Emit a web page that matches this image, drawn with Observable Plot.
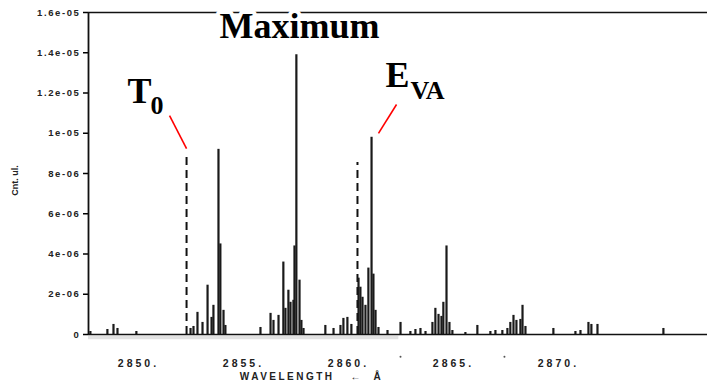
<!DOCTYPE html>
<html><head><meta charset="utf-8">
<script src="https://cdn.jsdelivr.net/npm/d3@7"></script>
<script src="https://cdn.jsdelivr.net/npm/@observablehq/plot@0.6"></script>
<style>
html,body{margin:0;padding:0;background:#fff;}
#chart svg{display:block;overflow:visible;background:#fff;}
#chart g[aria-label="y-axis tick label"] text{font-family:"Liberation Sans",Arial,sans-serif;font-weight:bold;font-size:9.5px;letter-spacing:1.6px;fill:#222;}
#chart g[aria-label="x-axis tick label"] text{font-family:"Liberation Sans",Arial,sans-serif;font-weight:bold;font-size:10.5px;letter-spacing:3px;fill:#222;}
</style></head><body><div id="chart"></div>
<script>
// ---- data ----
const xDomain = [2847.62, 2877.10];
const yDomain = [0, 1.6e-5];
const peakWavelengths = [
  2847.71, 2848.52, 2848.81, 2849.00, 2849.90,
  2852.48, 2852.62, 2852.81, 2853.05, 2853.29, 2853.48, 2853.57, 2853.81, 2853.90, 2854.05, 2854.14,
  2855.81, 2856.29, 2856.43, 2856.67, 2856.90, 2857.00, 2857.14, 2857.24, 2857.38, 2857.43, 2857.52, 2857.67, 2857.76, 2857.86,
  2858.90, 2859.29, 2859.62, 2859.76, 2859.95, 2860.14,
  2860.48, 2860.57, 2860.67, 2860.81, 2860.95, 2861.10, 2861.19, 2861.29, 2861.43, 2861.86,
  2862.48, 2862.95, 2863.19, 2863.43, 2863.67,
  2864.00, 2864.14, 2864.29, 2864.43, 2864.52, 2864.67, 2864.81, 2864.95,
  2865.57, 2866.14, 2866.76, 2867.00, 2867.33, 2867.57, 2867.71, 2867.86, 2868.00, 2868.19, 2868.29, 2868.43,
  2869.76, 2870.81, 2871.05, 2871.43, 2871.57, 2871.86, 2875.00
];
const peakCounts = [
  0.15e-6, 0.25e-6, 0.5e-6, 0.3e-6, 0.15e-6,
  0.3e-6, 0.4e-6, 1.1e-6, 0.6e-6, 2.45e-6, 0.85e-6, 1.45e-6, 9.2e-6, 4.5e-6, 1.2e-6, 0.45e-6,
  0.35e-6, 1.05e-6, 0.7e-6, 0.95e-6, 3.6e-6, 1.3e-6, 2.2e-6, 1.6e-6, 1.7e-6, 4.4e-6, 13.9e-6, 2.7e-6, 0.7e-6, 0.3e-6,
  0.45e-6, 0.3e-6, 0.45e-6, 0.8e-6, 0.85e-6, 0.5e-6,
  2.8e-6, 2.35e-6, 1.85e-6, 1.45e-6, 3.3e-6, 9.8e-6, 3.0e-6, 1.2e-6, 0.35e-6, 0.2e-6,
  0.6e-6, 0.15e-6, 0.25e-6, 0.3e-6, 0.15e-6,
  0.6e-6, 1.3e-6, 1.0e-6, 0.9e-6, 1.6e-6, 4.4e-6, 0.6e-6, 0.2e-6,
  0.1e-6, 0.45e-6, 0.15e-6, 0.2e-6, 0.2e-6, 0.3e-6, 0.6e-6, 0.95e-6, 0.7e-6, 0.75e-6, 1.45e-6, 0.4e-6,
  0.3e-6, 0.15e-6, 0.2e-6, 0.6e-6, 0.5e-6, 0.5e-6, 0.3e-6
];
const xTickValues = [2850, 2855, 2860, 2865, 2870];
const xTickLabels = ["2850.", "2855.", "2860.", "2865.", "2870."];
const yTickValues = [0, 2e-6, 4e-6, 6e-6, 8e-6, 1e-5, 1.2e-5, 1.4e-5, 1.6e-5];
const yTickLabels = ["0", "2e-06", "4e-06", "6e-06", "8e-06", "1e-05", "1.2e-05", "1.4e-05", "1.6e-05"];
const xLabel = "WAVELENGTH   ←  Å";
const yLabel = "Cnt. ul.";
const markerWavelengths = [2852.29, 2860.43];
const markerHeights = [9.0e-6, 8.55e-6];
const pointerX1 = [2851.48, 2862.29];
const pointerY1 = [10.88e-6, 11.43e-6];
const pointerX2 = [2852.29, 2861.43];
const pointerY2 = [9.24e-6, 9.99e-6];
const titleLabel = "Maximum";
const titleX = 2857.67;
const titleY = 14.71e-6;
const symbolLabels = ["T", "E"];
const symbolX = [2849.48, 2861.76];
const symbolY = [11.48e-6, 12.32e-6];
const subLabels = ["0", "VA"];
const subLabelX = [2850.57, 2862.95];
const subLabelY = [10.98e-6, 11.68e-6];
const stray = [2862.48, 2867.43];

// ---- tables ----
const peaks = peakWavelengths.map((w, i) => ({w, c: peakCounts[i]}));
const markers = markerWavelengths.map((w, i) => ({w, h: markerHeights[i]}));
const pointers = pointerX1.map((x1, i) => ({x1, y1: pointerY1[i], x2: pointerX2[i], y2: pointerY2[i]}));
const syms = symbolLabels.map((t, i) => ({t, x: symbolX[i], y: symbolY[i]}));
const subs = subLabels.map((t, i) => ({t, x: subLabelX[i], y: subLabelY[i]}));
const serif = "'Liberation Serif','Times New Roman',serif";

const plot = Plot.plot({
  width: 707, height: 382,
  marginLeft: 88, marginRight: 0, marginTop: 12, marginBottom: 48,
  x: {domain: xDomain},
  y: {domain: yDomain},
  marks: [
    Plot.ruleY([0], {x1: xDomain[0], x2: 2862.4, stroke: "#e2e2e2", strokeWidth: 3.5, dy: 3}),
    Plot.axisX({ticks: xTickValues, tickFormat: d => xTickLabels[xTickValues.indexOf(d)], tickSize: 0, tickPadding: 25, label: null}),
    Plot.axisY({ticks: yTickValues, tickFormat: d => yTickLabels[yTickValues.indexOf(d)], tickSize: 5, tickPadding: 3, label: null, strokeWidth: 1.5}),
    Plot.ruleY([yDomain[1]], {stroke: "#111", strokeWidth: 1.6}),
    Plot.ruleX([xDomain[0]], {y1: 0, y2: yDomain[1], stroke: "#111", strokeWidth: 1.8}),
    Plot.ruleX(markers, {x: "w", y1: 0, y2: "h", stroke: "#111", strokeWidth: 2, strokeDasharray: "8,5"}),
    Plot.ruleX(peaks, {x: "w", y1: 0, y2: "c", stroke: "#1a1a1a", strokeWidth: 2.2}),
    Plot.ruleY([0], {stroke: "#111", strokeWidth: 1.6}),
    Plot.dot(stray, {x: d => d, y: -1.1e-6, r: 1, fill: "#555", stroke: null}),
    Plot.link(pointers, {x1: "x1", y1: "y1", x2: "x2", y2: "y2", stroke: "#ff0000", strokeWidth: 1.6}),
    Plot.text([titleLabel], {x: titleX, y: titleY, text: d => d, textAnchor: "middle", lineAnchor: "bottom", fontFamily: serif, fontWeight: "bold", fontSize: 36, fill: "#000", stroke: "white", strokeWidth: 8}),
    Plot.text(syms, {x: "x", y: "y", text: "t", textAnchor: "start", lineAnchor: "bottom", fontFamily: serif, fontWeight: "bold", fontSize: 36, fill: "#000"}),
    Plot.text(subs, {x: "x", y: "y", text: "t", textAnchor: "start", lineAnchor: "bottom", fontFamily: serif, fontWeight: "bold", fontSize: 26, fill: "#000"}),
    Plot.text([xLabel], {x: 2858.24, y: -2.09e-6, text: d => d, fontFamily: "'Liberation Sans',Arial,sans-serif", fontWeight: "bold", fontSize: 10, fill: "#222"}),
    Plot.text([yLabel], {x: xDomain[0], y: 7.65e-6, dx: -73, rotate: -90, text: d => d, fontFamily: "'Liberation Sans',Arial,sans-serif", fontWeight: "bold", fontSize: 9, fill: "#222"})
  ]
});
document.getElementById("chart").appendChild(plot);
d3.select(plot).selectAll("text").filter(function(){ return this.textContent === xLabel; })
  .style("letter-spacing", "2.5px").style("white-space", "pre");
</script></body></html>
